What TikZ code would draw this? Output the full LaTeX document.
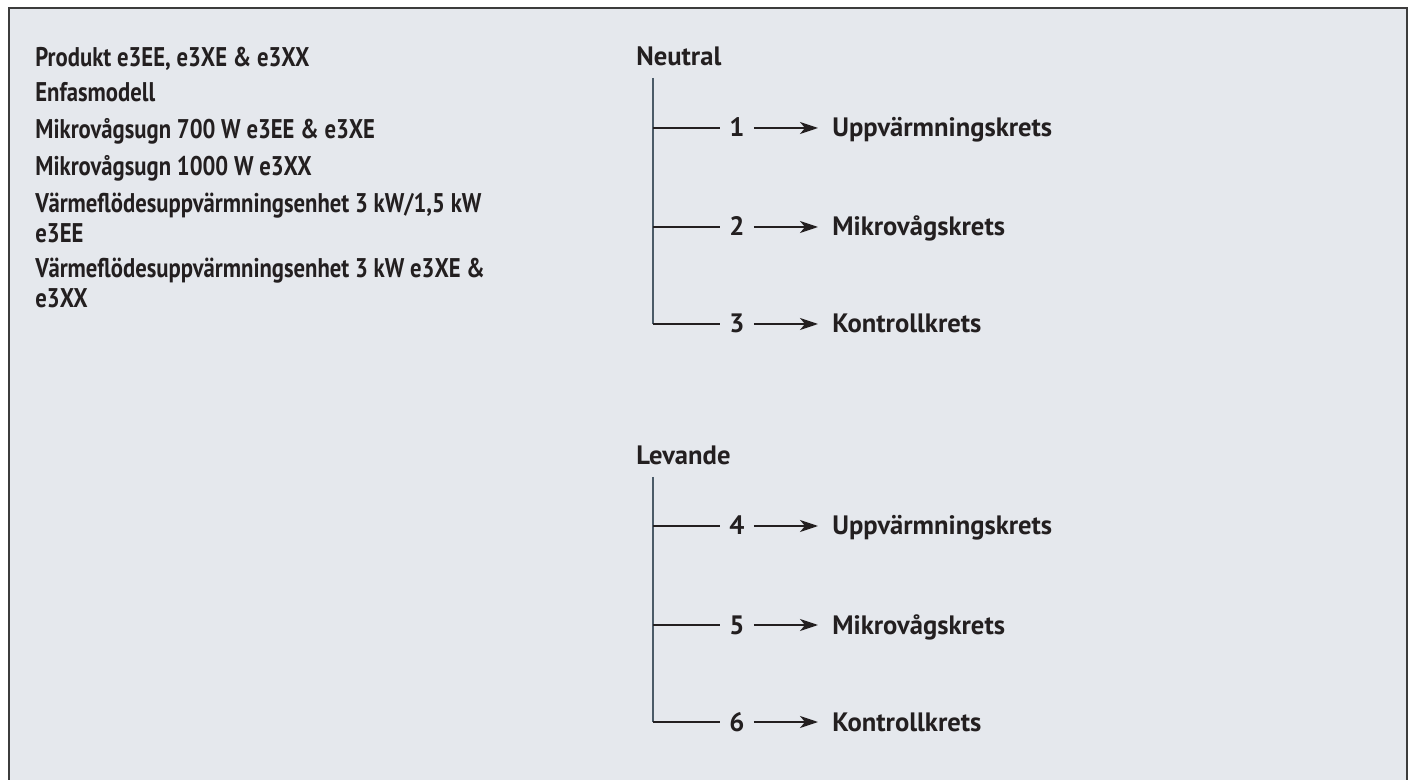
\documentclass[tikz,border=0pt]{standalone}
\usepackage{fontspec}
\setmainfont{PT Sans}
\newfontfamily\narrowsans[FakeStretch=0.84]{PT Sans}
\usetikzlibrary{arrows.meta}

\definecolor{panelbg}{HTML}{E5E8ED}
\definecolor{panelrule}{HTML}{3C3C3C}
\definecolor{busline}{HTML}{4B5B68}
\definecolor{ink}{HTML}{231F20}

\begin{document}
\begin{tikzpicture}[
    x=0.5pt, y=-0.5pt,
    every node/.style={text=ink, font=\fontsize{13.3}{15}\selectfont\bfseries},
    txt/.style={anchor=base west, inner sep=0pt},
    spec/.style={txt, font=\fontsize{13.5}{15}\selectfont\narrowsans\bfseries},
    num/.style={inner sep=0pt, minimum width=16.5pt, text height=9pt, text depth=0pt},
    lbl/.style={anchor=west, inner xsep=7pt, inner ysep=0pt, text height=9pt, text depth=0pt},
    wire/.style={draw=ink, line width=1pt},
    bus/.style={draw=busline, line width=1.1pt},
    >={Stealth[length=9pt, width=6pt, inset=2.5pt]}
]
    % Rahmen
    \clip (0,0) rectangle (1414,780);
    \draw[panelrule, line width=1pt, fill=panelbg] (8.5,8.5) rectangle (1406.5,800);

    % Produktangaben links
    \node[spec] (prod)  at (35,67)  {Produkt e3EE, e3XE \& e3XX};
    \node[spec] (enfas) at (35,102) {Enfasmodell};
    \node[spec] (mv700) at (35,139) {Mikrovågsugn 700 W e3EE \& e3XE};
    \node[spec] (mv1k)  at (35,176) {Mikrovågsugn 1000 W e3XX};
    \node[spec] (vf1)   at (35,213) {Värmeflödesuppvärmningsenhet 3 kW/1,5 kW};
    \node[spec] (vf1b)  at (35,243) {e3EE};
    \node[spec] (vf2)   at (35,278) {Värmeflödesuppvärmningsenhet 3 kW e3XE \&};
    \node[spec] (vf2b)  at (35,308) {e3XX};

    % Neutral
    \node[txt] (neutral) at (636,66) {Neutral};
    \coordinate (nt) at (653,78);
    \coordinate (b1) at (653,128);
    \coordinate (b2) at (653,227);
    \coordinate (b3) at (653,324);
    \node[num] (n1) at (737,128) {1};
    \node[num] (n2) at (737,227) {2};
    \node[num] (n3) at (737,324) {3};
    \node[lbl] (l1) at (818,128) {Uppvärmningskrets};
    \node[lbl] (l2) at (818,227) {Mikrovågskrets};
    \node[lbl] (l3) at (818,324) {Kontrollkrets};

    \draw[bus] (nt) -- (b3);
    \draw[wire] (b1) -- (n1);
    \draw[wire] (b2) -- (n2);
    \draw[wire] (b3) -- (n3);
    \draw[wire, ->] (n1) -- (l1);
    \draw[wire, ->] (n2) -- (l2);
    \draw[wire, ->] (n3) -- (l3);

    % Levande
    \node[txt] (levande) at (636,465) {Levande};
    \coordinate (lt) at (653,477);
    \coordinate (b4) at (653,526);
    \coordinate (b5) at (653,625);
    \coordinate (b6) at (653,722);
    \node[num] (n4) at (737,526) {4};
    \node[num] (n5) at (737,625) {5};
    \node[num] (n6) at (737,722) {6};
    \node[lbl] (l4) at (818,526) {Uppvärmningskrets};
    \node[lbl] (l5) at (818,625) {Mikrovågskrets};
    \node[lbl] (l6) at (818,722) {Kontrollkrets};

    \draw[bus] (lt) -- (b6);
    \draw[wire] (b4) -- (n4);
    \draw[wire] (b5) -- (n5);
    \draw[wire] (b6) -- (n6);
    \draw[wire, ->] (n4) -- (l4);
    \draw[wire, ->] (n5) -- (l5);
    \draw[wire, ->] (n6) -- (l6);
\end{tikzpicture}
\end{document}
